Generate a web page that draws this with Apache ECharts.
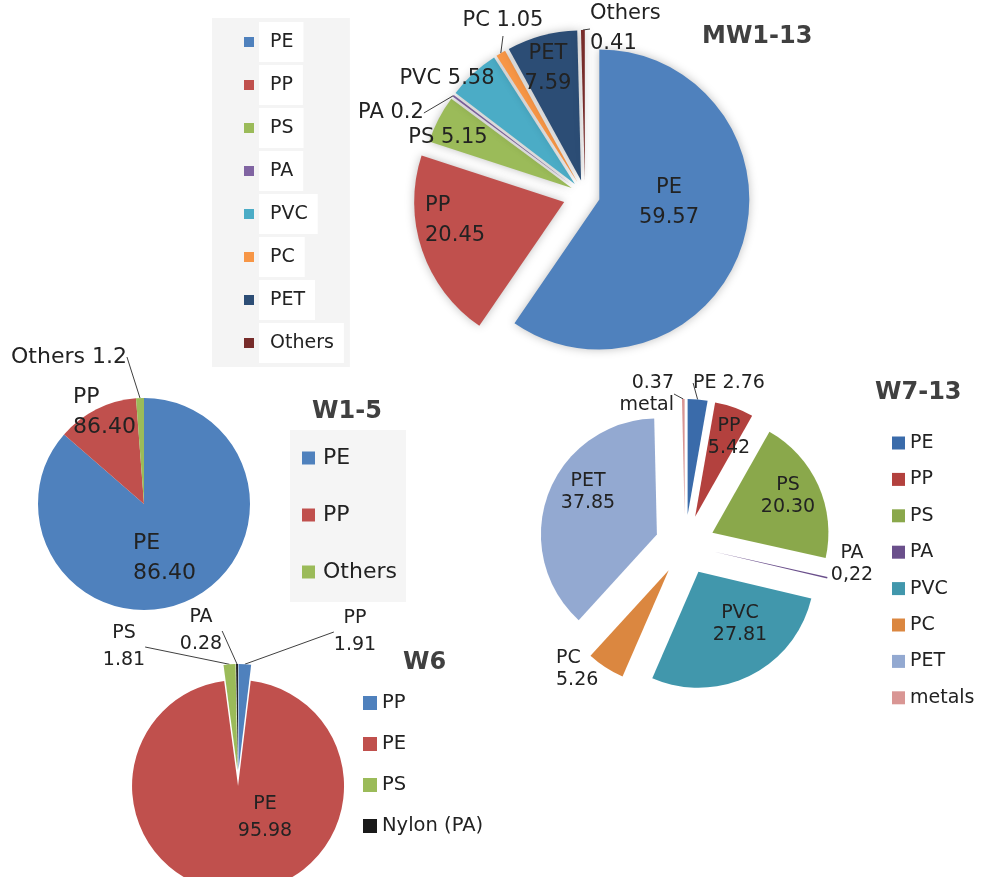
<!DOCTYPE html>
<html><head><meta charset="utf-8">
<script src="https://cdn.jsdelivr.net/npm/echarts@6/dist/echarts.min.js"></script>
<style>html,body{margin:0;padding:0;background:#fff}#c{width:981px;height:877px}</style>
</head><body><div id="c"></div>
<script>
// ---------- DATA ----------
// MW1-13
const mwNames  = ['PE','PP','PS','PA','PVC','PC','PET','Others'];
const mwValues = [59.57,20.45,5.15,0.2,5.58,1.05,7.59,0.41];
const mwText   = ['59.57','20.45','5.15','0.2','5.58','1.05','7.59','0.41'];
// W1-5
const w15Names  = ['PE','PP','Others'];
const w15Values = [86.40,12.40,1.2];
const w15Text   = ['86.40','86.40','1.2'];
// W6
const w6Names  = ['PP','PE','PS','Nylon (PA)'];
const w6Short  = ['PP','PE','PS','PA'];
const w6Values = [1.91,95.98,1.81,0.28];
const w6Text   = ['1.91','95.98','1.81','0.28'];
// W7-13
const w7Names  = ['PE','PP','PS','PA','PVC','PC','PET','metals'];
const w7Short  = ['PE','PP','PS','PA','PVC','PC','PET','metal'];
const w7Values = [2.76,5.42,20.30,0.22,27.81,5.26,37.85,0.37];
const w7Text   = ['2.76','5.42','20.30','0,22','27.81','5.26','37.85','0.37'];

// ---------- STYLES ----------
const mwColors  = ['#4F81BD','#C0504D','#9BBB59','#8064A2','#4BACC6','#F79646','#2C4D75','#772C2A'];
const w15Colors = ['#4F81BD','#C0504D','#9BBB59'];
const w6Colors  = ['#4F81BD','#C0504D','#9BBB59','#1A1A1A'];
const w7Colors  = ['#3A6BAA','#B3413E','#8AA84B','#6A4F8B','#4197AC','#DB8740','#93A9D1','#D99694'];

// explosion distance per slice (px)
const mwExplode  = [15, 22, 15, 15, 15, 15, 15, 15];
const w15Explode = [0, 0, 0];
const w6Explode  = [8, 8, 8, 8];
const w7Explode  = [30, 30, 30, 30, 30, 30, 30, 30];

// label placement: [x, y, align, separator, withLine, valueFirst]
const mwLab = [[669,203,'center','\n',0],[425,221,'left','\n',0],[448,138,'center',' ',0],[391,113,'center',' ',1],
               [447,79,'center',' ',0],[503,21,'center',' ',1],[548,69,'center','\n',0],[590,29,'left','\n',1]];
const w15Lab = [[133,558,'left','\n',0],[73,412,'left','\n',0],[69,357,'center',' ',1]];
const w6Lab = [[355,632,'center','\n',1],[265,818,'center','\n',0],[124,647,'center','\n',1],[201,631,'center','\n',1]];
const w7Lab = [[729,383,'center',' ',1],[729,437,'center','\n',0],[788,496,'center','\n',0],[852,564,'center','\n',0],
               [740,624,'center','\n',0],[556,669,'left','\n',0],[588,492,'center','\n',0],[674,394,'right','\n',1,1]];

const FONT = 'DejaVu Sans';
const TXT = '#222222';
const HIDDEN = 'rgba(0,0,0,0)';

function labelText(s, shortName, text) {
  return s[5] ? text + s[3] + shortName : shortName + s[3] + text;
}

// One pie series per slice, each shifted outward along its own mid-angle (exploded pie).
function explodedPie(base, radius, explode, names, short, values, texts, colors, lab, fontSize, lineHeight, itemExtra) {
  const total = values.reduce((a, b) => a + b, 0);
  let acc = 0;
  return names.map((n, k) => {
    const mid = (acc + values[k] / 2) / total * 2 * Math.PI;
    acc += values[k];
    const cx = base[0] + explode[k] * Math.sin(mid);
    const cy = base[1] - explode[k] * Math.cos(mid);
    const s = lab[k];
    const data = names.map((m, i) => i === k ? {
      name: m, value: values[i],
      itemStyle: Object.assign({color: colors[i]}, itemExtra || {}),
      label: {show: true, position: s[4] ? 'outside' : 'inside', formatter: labelText(s, short[i], texts[i]), align: s[2]},
      labelLine: {show: !!s[4]}
    } : {
      name: m, value: values[i],
      itemStyle: {color: HIDDEN},
      label: {show: false}, labelLine: {show: false}
    });
    return {
      type: 'pie', center: [cx, cy], radius: radius, startAngle: 90, clockwise: true,
      selectedMode: false, avoidLabelOverlap: false, animation: false, silent: true,
      label: {color: TXT, fontFamily: FONT, fontSize: fontSize, lineHeight: lineHeight},
      labelLine: {length: 6, length2: 0, smooth: false, lineStyle: {color: '#404040', width: 1}},
      labelLayout: function () { return {x: s[0], y: s[1], align: s[2], verticalAlign: 'middle'}; },
      emphasis: {disabled: true},
      data: data
    };
  });
}
function legendData(names, colors) {
  return names.map((n, i) => ({name: n, itemStyle: {color: colors[i]}}));
}

const titleStyle = {fontFamily: FONT, fontWeight: 'bold', fontSize: 24, color: '#404040', lineHeight: 30};

const series = [].concat(
  explodedPie([585, 195], 150, mwExplode, mwNames, mwNames, mwValues, mwText, mwColors, mwLab, 21, 30,
              {shadowBlur: 10, shadowColor: 'rgba(0,0,0,0.25)'}),
  explodedPie([144, 504], 106, w15Explode, w15Names, w15Names, w15Values, w15Text, w15Colors, w15Lab, 22, 30),
  explodedPie([238, 778], 106, w6Explode, w6Names, w6Short, w6Values, w6Text, w6Colors, w6Lab, 19, 27),
  explodedPie([685, 545], 116, w7Explode, w7Names, w7Short, w7Values, w7Text, w7Colors, w7Lab, 19, 22)
);

const option = {
  backgroundColor: '#ffffff',
  animation: false,
  title: [
    {text: 'MW1-13', left: 702, top: 22, padding: 0, textStyle: titleStyle},
    {text: 'W1-5', left: 312, top: 397, padding: 0, textStyle: titleStyle},
    {text: 'W6', left: 403, top: 648, padding: 0, textStyle: titleStyle},
    {text: 'W7-13', left: 875, top: 378, padding: 0, textStyle: titleStyle}
  ],
  legend: [
    {left: 212, top: 18, orient: 'vertical', selectedMode: false, backgroundColor: '#f4f4f4',
     padding: [4, 6, 4, 32], itemWidth: 10, itemHeight: 10, itemGap: 3, icon: 'rect',
     textStyle: {fontFamily: FONT, fontSize: 19, lineHeight: 20, color: TXT, backgroundColor: '#ffffff', padding: [10, 10, 10, 11]},
     data: legendData(mwNames, mwColors)},
    {left: 290, top: 430, orient: 'vertical', selectedMode: false, backgroundColor: '#f5f5f5',
     padding: [15, 9, 17, 12], itemWidth: 13, itemHeight: 13, itemGap: 31, icon: 'rect',
     textStyle: {fontFamily: FONT, fontSize: 22, lineHeight: 26, color: TXT, padding: [0, 0, 0, 3]},
     data: legendData(w15Names, w15Colors)},
    {left: 363, top: 692, orient: 'vertical', selectedMode: false, padding: 0,
     itemWidth: 14, itemHeight: 14, itemGap: 19, icon: 'rect',
     textStyle: {fontFamily: FONT, fontSize: 19.5, lineHeight: 22, color: TXT},
     data: legendData(w6Names, w6Colors)},
    {left: 892, top: 432, orient: 'vertical', selectedMode: false, padding: 0,
     itemWidth: 13, itemHeight: 13, itemGap: 14.4, icon: 'rect',
     textStyle: {fontFamily: FONT, fontSize: 19, lineHeight: 22, color: TXT},
     data: legendData(w7Names, w7Colors)}
  ],
  series: series
};
const chart = echarts.init(document.getElementById('c'), null, {renderer: 'canvas'});
chart.setOption(option);
</script></body></html>
